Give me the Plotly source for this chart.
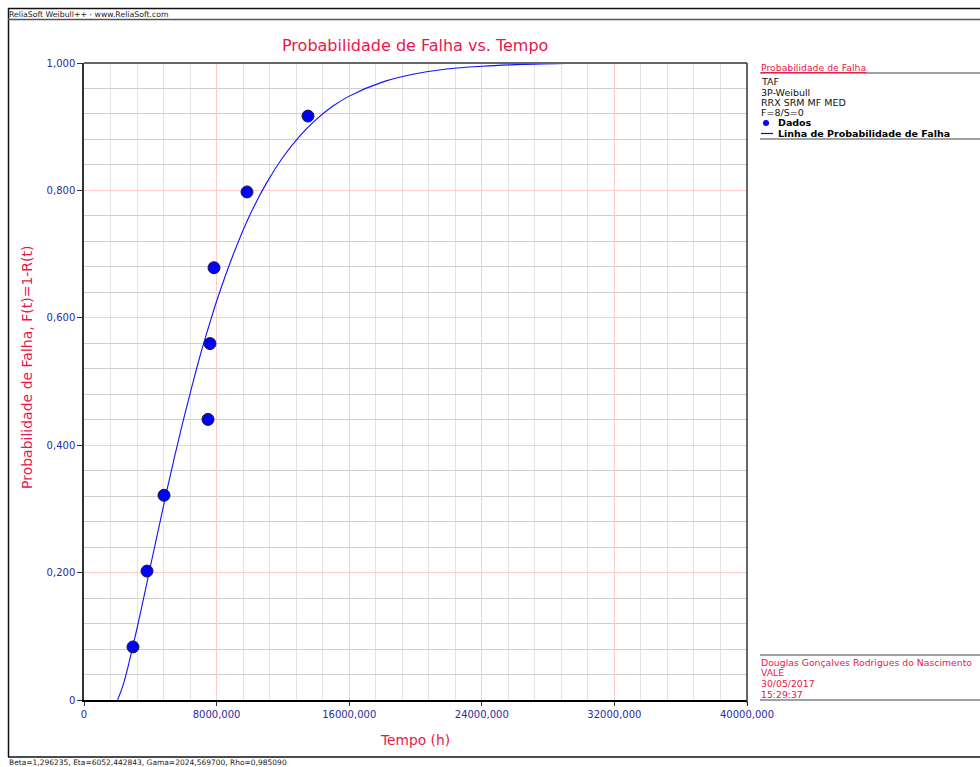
import plotly.graph_objects as go

# Failure times (h) and median-rank unreliability of the 8 failures
tempo = [2956, 3801, 4827, 7481, 7602, 7843, 9834, 13514]
prob_falha = [0.0833, 0.2024, 0.3214, 0.4405, 0.5595, 0.6786, 0.7976, 0.9167]

# Fitted 3P-Weibull unreliability line, sampled along time
linha_t = [2025, 2400, 3000, 3500, 4000, 4500, 5000, 5500, 6000, 6500, 7000,
           7500, 8000, 9000, 10000, 11000, 12000, 13000, 14000, 15000, 16000,
           18000, 20000, 22000, 24000, 26000, 29000]
linha_f = [0.0, 0.027, 0.090, 0.148, 0.209, 0.269, 0.329, 0.386, 0.440, 0.491,
           0.540, 0.584, 0.626, 0.699, 0.761, 0.811, 0.852, 0.885, 0.911,
           0.932, 0.948, 0.970, 0.983, 0.991, 0.995, 0.9974, 0.9993]

x_ticks = [0, 8000, 16000, 24000, 32000, 40000]
x_ticktext = ["0", "8000,000", "16000,000", "24000,000", "32000,000", "40000,000"]
y_ticks = [0, 0.2, 0.4, 0.6, 0.8, 1.0]
y_ticktext = ["0", "0,200", "0,400", "0,600", "0,800", "1,000"]

info_lines = ["TAF", "3P-Weibull", "RRX SRM MF MED", "F=8/S=0"]
autor_lines = ["Douglas Gonçalves Rodrigues do Nascimento", "VALE",
               "30/05/2017", "15:29:37"]
parametros = "Beta=1,296235, Eta=6052,442843, Gama=2024,569700, Rho=0,985090"

W, H = 980, 767
L, R, T, B = 84, 747, 63, 700
CRIMSON = "#e8174b"
TICKBLUE = "#2b2b9c"
FONT = "Verdana, DejaVu Sans, sans-serif"


def px(x):
    return (x - L) / (R - L)


def py(y):
    return (B - y) / (B - T)


fig = go.Figure()

fig.add_trace(go.Scatter(
    x=linha_t, y=linha_f, mode="lines", line=dict(color="#1010ff", width=1.1, shape="spline"),
    showlegend=False, hoverinfo="skip"))
fig.add_trace(go.Scatter(
    x=tempo, y=prob_falha, mode="markers",
    marker=dict(color="#0000ff", size=12, line=dict(color="#1a1a40", width=1)),
    showlegend=False))

shapes = []


def hline(y, x0, x1, color="#333", width=1):
    shapes.append(dict(type="line", xref="paper", yref="paper", x0=px(x0), x1=px(x1),
                       y0=py(y), y1=py(y), line=dict(color=color, width=width)))


def vline(x, y0, y1, color="#333", width=1):
    shapes.append(dict(type="line", xref="paper", yref="paper", x0=px(x), x1=px(x),
                       y0=py(y0), y1=py(y1), line=dict(color=color, width=width)))


# outer frame and header / footer rules
vline(8.5, 8, 757, "#111", 1.5)
hline(8.5, 8, 980, "#111", 1.5)
hline(19.5, 8, 980, "#555", 1.5)
hline(757, 8, 980, "#111", 1.5)
# plot frame
hline(T, L, R, "#666", 2)
vline(R, T, B + 3, "#333", 1.5)
# right-hand panel rules
hline(73, 760, 980, "#444", 1.2)
hline(139, 760, 980, "#444", 1.2)
hline(655, 760, 980, "#444", 1.2)
hline(700, 760, 980, "#444", 1.2)
# legend line sample
hline(133.5, 761, 773, "#0000ff", 1.2)
shapes.append(dict(type="circle", xref="paper", yref="paper",
                   x0=px(763), x1=px(769), y0=py(120), y1=py(126),
                   fillcolor="#0000ff", line=dict(color="#0000ff", width=0)))

ann = []


def text(x, y, s, size, color="#000", anchor="left", bold=False, angle=0):
    if bold:
        s = "<b>" + s + "</b>"
    ann.append(dict(xref="paper", yref="paper", x=px(x), y=py(y), text=s,
                    showarrow=False, xanchor=anchor, yanchor="middle", textangle=angle,
                    font=dict(family=FONT, size=size, color=color)))


text(7, 14, "ReliaSoft Weibull++ - www.ReliaSoft.com", 7.75, "#222")
text(415, 45, "Probabilidade de Falha vs. Tempo", 16, CRIMSON, "center")
text(415, 740, "Tempo (h)", 13.8, CRIMSON, "center")
text(27, 368, "Probabilidade de Falha, F(t)=1-R(t)", 14, CRIMSON, "center", angle=-90)
text(759, 67, "<u>Probabilidade de Falha</u>", 9.3, CRIMSON)
for i, s in enumerate(info_lines):
    text(759, 82 + i * 10.3, s, 9.5, "#111")
text(776, 123, "Dados", 9.5, "#000", bold=True)
text(776, 133, "Linha de Probabilidade de Falha", 9.5, "#000", bold=True)
for i, s in enumerate(autor_lines):
    text(759, 662 + i * 10.7, s, 9.3, CRIMSON)
text(7, 762, parametros, 7.5, "#222")

fig.update_layout(
    width=W, height=H, margin=dict(l=L, r=W - R, t=T, b=H - B, pad=0),
    paper_bgcolor="white", plot_bgcolor="white",
    shapes=shapes, annotations=ann, showlegend=False,
    xaxis=dict(range=[0, 40000], tickmode="array", tickvals=x_ticks, ticktext=x_ticktext,
               tickfont=dict(family=FONT, size=10, color=TICKBLUE),
               showgrid=True, gridcolor="#ffcccc", gridwidth=1,
               minor=dict(dtick=1600, tick0=0, showgrid=True, gridcolor="#e3e3e3",
                          gridwidth=1, ticks=""),
               ticks="outside", ticklen=4, tickcolor="#333",
               showline=True, linecolor="#000", linewidth=1.5, zeroline=False),
    yaxis=dict(range=[0, 1.0], tickmode="array", tickvals=y_ticks, ticktext=y_ticktext,
               tickfont=dict(family=FONT, size=10, color=TICKBLUE),
               showgrid=True, gridcolor="#ffcccc", gridwidth=1,
               minor=dict(dtick=0.04, tick0=0, showgrid=True, gridcolor="#cfcfcf",
                          gridwidth=1, ticks=""),
               ticks="outside", ticklen=5, tickcolor="#333",
               showline=True, linecolor="#333", linewidth=1.5, zeroline=False),
)

fig.write_html("out.html")
